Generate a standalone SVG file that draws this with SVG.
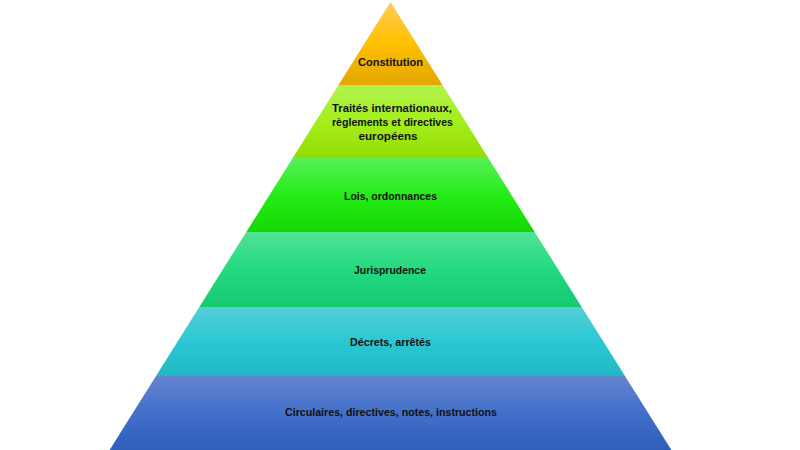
<svg xmlns="http://www.w3.org/2000/svg" width="800" height="450" viewBox="0 0 800 450">
  <defs>
    <linearGradient id="gConst" x1="0" y1="0" x2="0" y2="1">
      <stop offset="0" stop-color="#ffcc55"/>
      <stop offset="0.5" stop-color="#ffc000"/>
      <stop offset="1" stop-color="#e3a600"/>
    </linearGradient>
    <linearGradient id="gTraites" x1="0" y1="0" x2="0" y2="1">
      <stop offset="0" stop-color="#b2f24e"/>
      <stop offset="0.5" stop-color="#a4ee1c"/>
      <stop offset="1" stop-color="#94dc00"/>
    </linearGradient>
    <linearGradient id="gLois" x1="0" y1="0" x2="0" y2="1">
      <stop offset="0" stop-color="#58f05a"/>
      <stop offset="0.5" stop-color="#25ec18"/>
      <stop offset="1" stop-color="#14d800"/>
    </linearGradient>
    <linearGradient id="gJuris" x1="0" y1="0" x2="0" y2="1">
      <stop offset="0" stop-color="#52e394"/>
      <stop offset="0.5" stop-color="#22da80"/>
      <stop offset="1" stop-color="#16c872"/>
    </linearGradient>
    <linearGradient id="gDecrets" x1="0" y1="0" x2="0" y2="1">
      <stop offset="0" stop-color="#56ced8"/>
      <stop offset="0.5" stop-color="#2ac8d4"/>
      <stop offset="1" stop-color="#20b8c4"/>
    </linearGradient>
    <linearGradient id="gCirc" x1="0" y1="0" x2="0" y2="1">
      <stop offset="0" stop-color="#6484cf"/>
      <stop offset="0.5" stop-color="#4270c9"/>
      <stop offset="1" stop-color="#2f5ebb"/>
    </linearGradient>
  </defs>
  <style>
    .lbl { font-family: "Liberation Sans", Arial, sans-serif; font-weight: bold; font-size: 11px; fill: #111111; text-anchor: middle; }
  </style>
  <rect width="800" height="450" fill="#ffffff"/>
  <g id="constitution">
    <polygon points="390.5,2 442.5,85 338.5,85" fill="url(#gConst)"/>
    <text class="lbl" x="390.5" y="66" textLength="65" lengthAdjust="spacingAndGlyphs">Constitution</text>
  </g>
  <g id="traites">
    <polygon points="338.5,85 442.5,85 488.3,158 292.7,158" fill="url(#gTraites)"/>
    <text class="lbl" x="392" y="112" textLength="120" lengthAdjust="spacingAndGlyphs">Traités internationaux,</text>
    <text class="lbl" x="392.5" y="126" textLength="121" lengthAdjust="spacingAndGlyphs">règlements et directives</text>
    <text class="lbl" x="388" y="140" textLength="59" lengthAdjust="spacingAndGlyphs">européens</text>
  </g>
  <g id="lois">
    <polygon points="292.7,158 488.3,158 534.7,232 246.3,232" fill="url(#gLois)"/>
    <text class="lbl" x="390.5" y="200" textLength="93" lengthAdjust="spacingAndGlyphs">Lois, ordonnances</text>
  </g>
  <g id="jurisprudence">
    <polygon points="246.3,232 534.7,232 581.7,307 199.3,307" fill="url(#gJuris)"/>
    <text class="lbl" x="390" y="274" textLength="72" lengthAdjust="spacingAndGlyphs">Jurisprudence</text>
  </g>
  <g id="decrets">
    <polygon points="199.3,307 581.7,307 625,376 156,376" fill="url(#gDecrets)"/>
    <text class="lbl" x="390.5" y="346" textLength="81" lengthAdjust="spacingAndGlyphs">Décrets, arrêtés</text>
  </g>
  <g id="circulaires">
    <polygon points="156,376 625,376 671.4,450 109.6,450" fill="url(#gCirc)"/>
    <text class="lbl" x="391" y="416" textLength="212" lengthAdjust="spacingAndGlyphs">Circulaires, directives, notes, instructions</text>
  </g>
</svg>
